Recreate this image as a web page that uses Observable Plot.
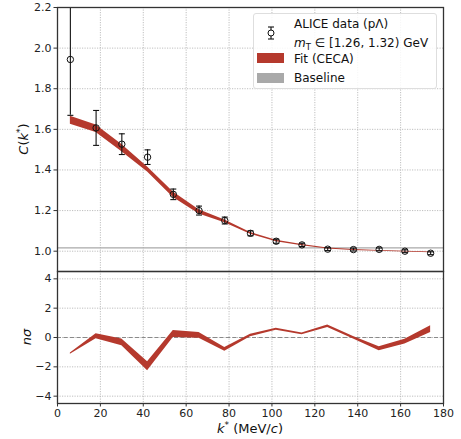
<!DOCTYPE html>
<html>
<head>
<meta charset="utf-8">
<script src="https://cdn.jsdelivr.net/npm/d3@7"></script>
<script src="https://cdn.jsdelivr.net/npm/@observablehq/plot@0.6"></script>
<style>
  html, body { margin: 0; padding: 0; background: white; }
  #wrap { position: relative; width: 461px; height: 439px; font-family: "DejaVu Sans", sans-serif; color: #111; overflow: hidden; }
  #wrap svg { position: absolute; left: 0; }
  .lbl { position: absolute; white-space: nowrap; font-size: 13px; }
  .rot { transform: translate(-50%, -50%) rotate(-90deg); }
  .legend { position: absolute; left: 253px; top: 13px; width: 184px; height: 76px; border: 1px solid #dedede; border-radius: 3px; background: rgba(255,255,255,0.85); box-sizing: border-box; }
  .lt { position: absolute; font-size: 12px; white-space: nowrap; line-height: 1; }
  .patch { position: absolute; width: 27px; height: 10px; }
  i { font-style: italic; }
</style>
</head>
<body>
<div id="wrap"></div>
<script>
// ---- data ----
const kstar   = [6, 18, 30, 42, 54, 66, 78, 90, 102, 114, 126, 138, 150, 162, 174];
const cData   = [1.944, 1.607, 1.527, 1.463, 1.280, 1.200, 1.151, 1.088, 1.049, 1.031, 1.010, 1.008, 1.009, 1.000, 0.990];
const cErr    = [0.275, 0.086, 0.051, 0.036, 0.026, 0.022, 0.017, 0.012, 0.010, 0.008, 0.007, 0.007, 0.007, 0.007, 0.007];
const fitLo   = [1.625, 1.585, 1.490, 1.390, 1.265, 1.183, 1.140, 1.084, 1.047, 1.027, 1.011, 1.004, 1.000, 0.996, 0.992];
const fitHi   = [1.665, 1.622, 1.525, 1.415, 1.291, 1.204, 1.153, 1.092, 1.054, 1.033, 1.016, 1.008, 1.004, 1.000, 0.996];
const nsLo    = [-1.15, -0.08, -0.57, -2.27, 0.00, -0.05, -0.93, 0.05, 0.50, 0.18, 0.68, -0.11, -0.90, -0.45, 0.34];
const nsHi    = [-1.05, 0.25, -0.11, -1.65, 0.48, 0.34, -0.68, 0.22, 0.63, 0.31, 0.86, 0.07, -0.63, -0.12, 0.80];
const baseX   = [0, 180];
const baseLo  = [1.011, 1.011];
const baseHi  = [1.017, 1.017];
const xTicks  = [0, 20, 40, 60, 80, 100, 120, 140, 160, 180];
const yTicksTop = [1.0, 1.2, 1.4, 1.6, 1.8, 2.0, 2.2];
const yTicksBot = [-4, -2, 0, 2, 4];

const pts = kstar.map((k, i) => ({k, c: cData[i], e: cErr[i]}));
const fit = kstar.map((k, i) => ({k, lo: fitLo[i], hi: fitHi[i]}));
const ns  = kstar.map((k, i) => ({k, lo: nsLo[i], hi: nsHi[i]}));
const base = baseX.map((x, i) => ({x, lo: baseLo[i], hi: baseHi[i]}));

const RED = "#b5392d";
const GRID = {stroke: "#b8b8b8", strokeOpacity: 1, strokeWidth: 0.9, strokeDasharray: "1.2,1.3"};
const FRAME = {stroke: "#333", strokeWidth: 1.3};
const cap = { draw(ctx, size) { const w = Math.sqrt(size / Math.PI); ctx.moveTo(-w, 0); ctx.lineTo(w, 0); } };
const common = {
  width: 461, marginLeft: 57, marginRight: 18,
  style: {background: "transparent", fontFamily: "DejaVu Sans", fontSize: "11px", color: "#222", overflow: "visible"}
};

const topPlot = Plot.plot({
  ...common,
  height: 274, marginTop: 7, marginBottom: 3,
  x: {domain: [0, 180], axis: null},
  y: {domain: [0.9, 2.2]},
  marks: [
    Plot.gridX(xTicks, GRID),
    Plot.gridY(yTicksTop, GRID),
    Plot.areaY(base, {x: "x", y1: "lo", y2: "hi", fill: "#a9a9a9"}),
    Plot.areaY(fit, {x: "k", y1: "lo", y2: "hi", fill: RED}),
    Plot.ruleX(pts, {x: "k", y1: d => d.c - d.e, y2: d => d.c + d.e, stroke: "#111", strokeWidth: 1.1, clip: true}),
    Plot.dot(pts, {x: "k", y: d => d.c + d.e, symbol: cap, r: 3, stroke: "#111", strokeWidth: 1.1, clip: true}),
    Plot.dot(pts, {x: "k", y: d => d.c - d.e, symbol: cap, r: 3, stroke: "#111", strokeWidth: 1.1, clip: true}),
    Plot.dot(pts, {x: "k", y: "c", r: 3.2, stroke: "#111", strokeWidth: 1, fill: "none"}),
    Plot.axisY(yTicksTop, {tickSize: 3.5, tickPadding: 2.5, tickFormat: d3.format(".1f"), label: null, stroke: "#333"}),
    Plot.frame(FRAME)
  ]
});
topPlot.style.top = "0px";

const botPlot = Plot.plot({
  ...common,
  height: 171, marginTop: 3, marginBottom: 36,
  x: {domain: [0, 180]},
  y: {domain: [-4.5, 4.5]},
  marks: [
    Plot.gridX(xTicks, GRID),
    Plot.gridY(yTicksBot, GRID),
    Plot.ruleY([0], {stroke: "#8a8a8a", strokeWidth: 1.1, strokeDasharray: "4,2.5"}),
    Plot.areaY(ns, {x: "k", y1: "lo", y2: "hi", fill: RED}),
    Plot.axisY(yTicksBot, {tickSize: 3.5, tickPadding: 2.5, tickFormat: d => d < 0 ? "\u2212" + Math.abs(d) : String(d), label: null, stroke: "#333"}),
    Plot.axisX(xTicks, {tickSize: 3.5, tickPadding: 2.5, label: null, stroke: "#333"}),
    Plot.frame(FRAME)
  ]
});
botPlot.style.top = "268px";

const wrap = document.getElementById("wrap");
wrap.appendChild(topPlot);
wrap.appendChild(botPlot);

wrap.insertAdjacentHTML("beforeend", `
  <div class="lbl rot" style="left:23px; top:139px;"><i>C</i>(<i>k</i><sup style="font-size:9px">*</sup>)</div>
  <div class="lbl rot" style="left:26px; top:337px;"><i>n</i><i>σ</i></div>
  <div class="lbl" style="left:250px; top:428px; transform:translate(-50%,-50%);"><i>k</i><sup style="font-size:9px">*</sup> (MeV/<i>c</i>)</div>
  <div class="legend"></div>
  <svg width="12" height="16" style="position:absolute; left:265px; top:25px; overflow:visible">
    <line x1="6" y1="2" x2="6" y2="14" stroke="#111" stroke-width="1.1"/>
    <line x1="3" y1="2" x2="9" y2="2" stroke="#111" stroke-width="1.1"/>
    <line x1="3" y1="14" x2="9" y2="14" stroke="#111" stroke-width="1.1"/>
    <circle cx="6" cy="8" r="3" fill="white" stroke="#111" stroke-width="1"/>
  </svg>
  <div class="lt" style="left:294px; top:18px;">ALICE data (pΛ)</div>
  <div class="lt" style="left:294px; top:37px;"><i>m</i><sub style="font-size:8.5px">T</sub> ∈ [1.26, 1.32) GeV</div>
  <div class="patch" style="left:257px; top:53px; background:${RED};"></div>
  <div class="lt" style="left:294px; top:53px;">Fit (CECA)</div>
  <div class="patch" style="left:257px; top:73px; background:#a9a9a9;"></div>
  <div class="lt" style="left:294px; top:72px;">Baseline</div>
`);
</script>
</body>
</html>
